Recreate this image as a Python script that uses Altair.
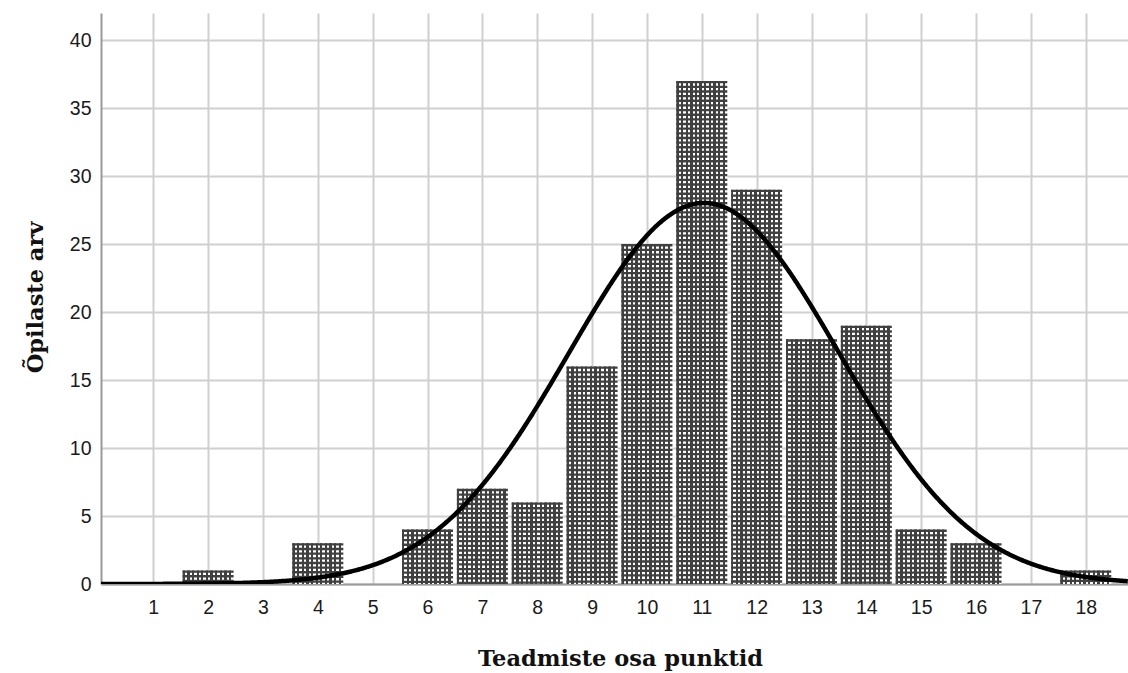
import altair as alt
import pandas as pd
import math

# ---- data ----
scores = [1, 2, 3, 4, 5, 6, 7, 8, 9, 10, 11, 12, 13, 14, 15, 16, 17, 18]
counts = [0, 1, 0, 3, 0, 4, 7, 6, 16, 25, 37, 29, 18, 19, 4, 3, 0, 1]
y_ticks = [0, 5, 10, 15, 20, 25, 30, 35, 40]
x_title = "Teadmiste osa punktid"
y_title = "Õpilaste arv"

# fitted normal curve parameters derived from the data
n_total = sum(counts)
mean = sum(s * c for s, c in zip(scores, counts)) / n_total
var = sum(c * (s - mean) ** 2 for s, c in zip(scores, counts)) / (n_total - 1)
sd = math.sqrt(var)
peak = n_total / (sd * math.sqrt(2 * math.pi))

bars = pd.DataFrame({"score": scores, "count": counts})
bars = bars[bars["count"] > 0]

X_MIN, X_MAX = 0.047, 18.77
x_scale = alt.Scale(domain=[X_MIN, X_MAX], nice=False, zero=False, padding=0)
y_scale = alt.Scale(domain=[0, 42], nice=False, padding=0)

DARK = "#404040"
BAR_W = 51

# vertical stripes for the checkered fill
periods = 11
stops = []
for i in range(periods):
    a = i / periods
    b = (i + 0.5) / periods
    c = (i + 1) / periods
    stops += [alt.GradientStop(offset=a, color=DARK), alt.GradientStop(offset=b, color=DARK),
              alt.GradientStop(offset=b, color="#ffffff"), alt.GradientStop(offset=c, color="#ffffff")]
grad = alt.LinearGradient(gradient="linear", x1=0, x2=1, y1=0, y2=0, stops=stops)

x_axis = alt.Axis(values=scores, title=x_title, grid=True, ticks=False, tickSize=0,
                  labelPadding=14, titleX=519, titleY=81, titleAlign="center",
                  titleBaseline="alphabetic")
y_axis = alt.Axis(values=y_ticks, title=y_title, grid=True, ticks=False, tickSize=0,
                  labelPadding=10, titleX=-59, titleY=284, titleAngle=270,
                  titleAlign="center", titleBaseline="alphabetic")

base = alt.Chart(bars)

bar_layer = base.mark_bar(size=BAR_W, color=grad).encode(
    x=alt.X("score:Q", scale=x_scale, axis=x_axis),
    y=alt.Y("count:Q", scale=y_scale, axis=y_axis),
)

stripe_layer = base.mark_rule(strokeWidth=BAR_W, color=DARK, strokeDash=[2.35, 2.3]).encode(
    x=alt.X("score:Q", scale=x_scale),
    y=alt.Y("count:Q", scale=y_scale),
    y2=alt.Y2(datum=0),
)

curve = alt.Chart(alt.sequence(X_MIN, X_MAX + 0.01, 0.02, as_="x")).transform_calculate(
    y=f"{peak} * exp(-0.5 * pow((datum.x - {mean}) / {sd}, 2))"
).mark_line(color="black", strokeWidth=4.5, clip=True).encode(
    x=alt.X("x:Q", scale=x_scale),
    y=alt.Y("y:Q", scale=y_scale),
)

chart = alt.layer(bar_layer, stripe_layer, curve).properties(
    width=1027, height=571,
    padding={"left": 101, "top": 13, "right": 0, "bottom": 89},
    autosize=alt.AutoSizeParams(type="none"),
    background="white",
).configure_view(stroke=None).configure_axis(
    gridColor="#d0d0d0", gridWidth=2,
    domainColor="#9a9a9a", domainWidth=2,
    labelFont="Liberation Sans", labelFontSize=19.5, labelColor="#1a1a1a",
    titleFont="DejaVu Serif", titleFontSize=22.5, titleFontWeight="bold", titleColor="#111111",
)

chart.save("out.html", embed_options={"renderer": "svg", "actions": False})
